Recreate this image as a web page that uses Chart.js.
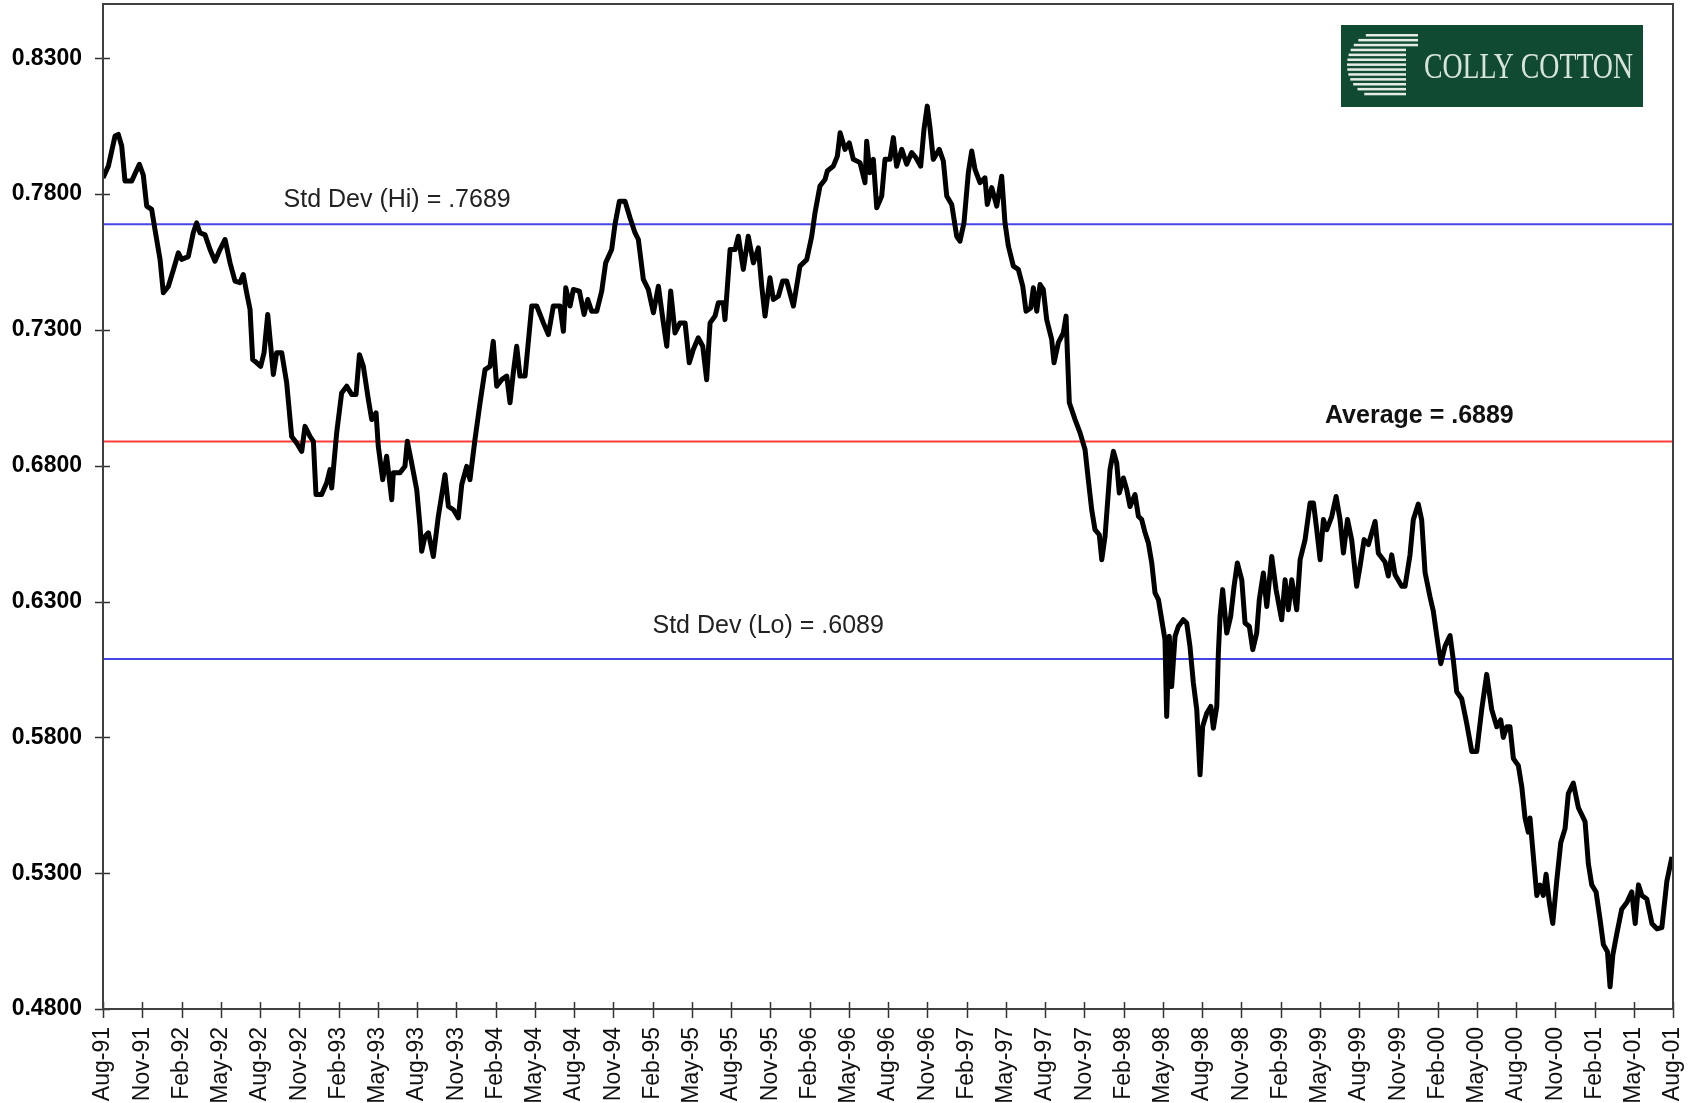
<!DOCTYPE html>
<html>
<head>
<meta charset="utf-8">
<title>AUD/USD - Colly Cotton</title>
<script src="https://cdn.jsdelivr.net/npm/chart.js@4.4.1/dist/chart.umd.min.js"></script>
<style>
  html, body { margin: 0; padding: 0; background: #fff; }
  canvas { display: block; }
</style>
</head>
<body>
<canvas id="chart" width="1690" height="1103"></canvas>
<script>
// ===== Data =====
// Months since Aug-91 and the rate read at that point
const months = [
  0, 0.41, 0.92, 1.17, 1.43, 1.68, 2.19, 2.78, 3.08, 3.34, 3.72, 3.97, 4.36, 4.61, 4.99, 5.37, 5.76, 6.01, 6.52, 6.9,
  7.16, 7.41, 7.8, 8.18, 8.56, 8.94, 9.33, 9.71, 10.09, 10.47, 10.72, 10.98, 11.24, 11.44, 11.75, 12.05, 12.31, 12.59, 12.82, 13.02,
  13.27, 13.66, 14.04, 14.42, 14.8, 15.19, 15.44, 15.82, 16.08, 16.28, 16.71, 17.1, 17.35, 17.48, 17.86, 18.24, 18.63, 19.01, 19.34, 19.6,
  19.9, 20.28, 20.54, 20.87, 21.04, 21.38, 21.68, 22.07, 22.19, 22.7, 23.08, 23.26, 23.59, 23.98, 24.23, 24.36,
  24.61, 24.87, 25.25, 25.63, 26.14, 26.4, 26.78, 27.16, 27.42, 27.8, 28.05, 28.43, 28.82, 29.2, 29.58, 29.83, 30.09, 30.47, 30.86, 31.11,
  31.36, 31.62, 31.87, 32.26, 32.77, 33.15, 33.66, 34.04, 34.42, 34.93, 35.19, 35.37, 35.7, 35.95, 36.41, 36.77, 37.05, 37.35, 37.74, 38.12,
  38.42, 38.88, 39.13, 39.47, 39.9, 40.28, 40.66, 40.92, 41.3, 41.68, 42.07, 42.45, 42.83, 43.09, 43.39, 43.72, 44.1, 44.49, 44.81, 45.12,
  45.5, 45.84, 46.14, 46.4, 46.78, 47.03, 47.41, 47.54, 47.93, 48.31, 48.56,
  48.94, 49.32, 49.71, 50.09, 50.35, 50.6, 50.98, 51.24, 51.62, 51.95, 52.26, 52.77, 53.27, 53.79, 54.17, 54.42, 54.8, 55.19, 55.36, 55.82,
  56.13, 56.34, 56.71, 57.04, 57.35, 57.86, 58.24, 58.37, 58.62, 58.88, 59.14, 59.52, 59.77, 60.15, 60.41, 60.66, 61.05, 61.43, 61.81, 62.14,
  62.5, 62.75, 63.0, 63.21, 63.46, 63.92, 64.23, 64.49, 64.87, 65.25, 65.5, 65.81, 66.14, 66.4, 66.65, 67.03, 67.41, 67.59, 67.93, 68.31,
  68.69, 68.94, 69.2, 69.58, 69.96, 70.3, 70.55, 70.91, 71.11, 71.37, 71.62, 71.87, 72.13, 72.51, 72.69, 73.02, 73.4, 73.61, 73.71, 73.86,
  74.3, 74.68, 75.06, 75.31, 75.57, 75.82, 76.15, 76.34, 76.59, 76.97, 77.23, 77.48, 77.68, 77.99, 78.25, 78.5, 78.88, 79.14, 79.39, 79.65,
  79.9, 80.16, 80.41, 80.67, 80.92, 81.17, 81.3, 81.5, 81.68, 81.94, 82.19, 82.57, 82.83, 83.08, 83.34, 83.6, 83.85, 84.05, 84.36, 84.67,
  84.87, 85.13, 85.25, 85.38, 85.58, 85.89, 86.19, 86.45, 86.7, 87.04, 87.29, 87.62, 87.88, 88.18, 88.38, 88.69, 88.95, 89.33, 89.66, 90.09,
  90.35, 90.6, 90.86, 91.24, 91.5, 91.88, 92.26, 92.52, 92.77, 93.03, 93.28, 93.54, 93.92, 94.25, 94.55, 94.81, 95.12, 95.44, 95.82, 96.08,
  96.39, 96.72,
  97.23, 97.48, 97.99, 98.24, 98.5, 98.75, 99.27, 99.52, 99.9, 100.15, 100.53, 100.79, 101.05, 101.43, 101.68, 101.94, 102.25, 102.58, 102.96, 103.21,
  103.47, 103.85, 104.23, 104.62, 105, 105.38, 105.76, 106.14, 106.53, 106.83, 107.03, 107.29, 107.54, 107.8, 108.18, 108.44, 108.69, 108.94, 109.07, 109.33,
  109.59, 109.84, 110.09, 110.3, 110.55, 110.81, 111.11, 111.42, 111.75, 112, 112.38, 112.77, 113.28, 113.53, 113.79, 114.12, 114.43, 114.68, 114.99, 115.19,
  115.4, 115.7, 116.08, 116.47, 116.85, 117.11, 117.36, 117.62, 118, 118.39, 118.77, 119.15, 119.53, 119.92
];
const rates = [
  0.786, 0.7903, 0.8014, 0.802, 0.7977, 0.7848, 0.7848, 0.791, 0.787, 0.7756, 0.7744, 0.767, 0.756, 0.7437, 0.746, 0.752, 0.7584, 0.756, 0.757, 0.7658,
  0.7694, 0.7658, 0.765, 0.7596, 0.7553, 0.7596, 0.7633, 0.7547, 0.748, 0.7474, 0.7504, 0.7437, 0.7375, 0.7191, 0.7179, 0.7166, 0.7216, 0.7357, 0.724, 0.7136,
  0.7216, 0.7216, 0.7105, 0.6908, 0.6884, 0.6853, 0.6945, 0.6908, 0.689, 0.6694, 0.6694, 0.6737, 0.6786, 0.6718, 0.6921, 0.7068, 0.7093, 0.7062, 0.7062, 0.7209,
  0.7166, 0.7044, 0.697, 0.6995, 0.6872, 0.6749, 0.6835, 0.6675, 0.6774, 0.6774, 0.6798, 0.689, 0.681, 0.6712, 0.6577, 0.6485,
  0.654, 0.6553, 0.6466, 0.6614, 0.6767, 0.665, 0.6638, 0.6608, 0.6731, 0.6798, 0.6749, 0.6896, 0.7032, 0.7154, 0.7166, 0.7258, 0.7093, 0.7117, 0.713, 0.7032,
  0.7142, 0.724, 0.713, 0.713, 0.7388, 0.7388, 0.7326, 0.7283, 0.7388, 0.7388, 0.7295, 0.7455, 0.7388, 0.7449, 0.7443, 0.7357, 0.7412, 0.7369, 0.7369, 0.7443,
  0.7547, 0.7596, 0.7688, 0.7774, 0.7774, 0.7713, 0.7658, 0.7633, 0.7486, 0.7449, 0.7363, 0.7461, 0.7326, 0.724, 0.7443, 0.7289, 0.7326, 0.7326, 0.7179, 0.7228,
  0.7271, 0.724, 0.7117, 0.7326, 0.7351, 0.74, 0.74, 0.7338, 0.7596, 0.7596, 0.7645,
  0.7523, 0.7645, 0.7547, 0.7602, 0.7461, 0.7351, 0.7492, 0.7412, 0.7424, 0.748, 0.748, 0.7388, 0.7535, 0.7559, 0.7645, 0.7731, 0.783, 0.7854, 0.7885, 0.7903,
  0.794, 0.8026, 0.7965, 0.7989, 0.7928, 0.7916, 0.7842, 0.7995, 0.7879, 0.7928, 0.775, 0.7793, 0.7928, 0.7928, 0.8008, 0.7903, 0.7965, 0.791, 0.7953, 0.7934,
  0.7903, 0.8038, 0.8124, 0.8045, 0.7928, 0.7965, 0.7922, 0.7793, 0.7762, 0.7645, 0.7627, 0.7695, 0.7879, 0.7959, 0.7891, 0.7842, 0.786, 0.7762, 0.7824, 0.7756,
  0.7866, 0.7695, 0.7609, 0.7535, 0.7523, 0.7461, 0.7369, 0.7381, 0.7455, 0.7369, 0.7467, 0.7449, 0.7338, 0.7265, 0.7179, 0.7253, 0.7289, 0.7351, 0.7216, 0.7032,
  0.697, 0.6921, 0.686, 0.6749, 0.6638, 0.6565, 0.6546, 0.6454, 0.654, 0.6786, 0.6853, 0.681, 0.67, 0.6755, 0.6712, 0.665, 0.6694, 0.6614, 0.6602, 0.6553,
  0.6516, 0.6442, 0.6332, 0.6307, 0.6233, 0.616, 0.5877, 0.6172, 0.5987, 0.6172, 0.6208, 0.6233, 0.6221, 0.6135, 0.6, 0.5902, 0.5662, 0.584, 0.5889, 0.5914,
  0.5834, 0.5914, 0.611, 0.6245, 0.6344, 0.6184, 0.6245, 0.6356, 0.6442, 0.638, 0.6221, 0.6208, 0.6123, 0.6184, 0.6307, 0.6405, 0.6282, 0.6466, 0.6344, 0.6233,
  0.638, 0.627, 0.638, 0.627, 0.6454, 0.6528, 0.6663, 0.6663, 0.6565, 0.6454, 0.6602, 0.6565, 0.6614, 0.6687, 0.6602, 0.6479, 0.6602, 0.6528, 0.6356, 0.643,
  0.6528, 0.651,
  0.6595, 0.6478, 0.6446, 0.6394, 0.6472, 0.64, 0.6356, 0.6356, 0.6472, 0.6601, 0.6659, 0.6601, 0.6407, 0.6317, 0.6265, 0.6175, 0.6071, 0.6136, 0.6175, 0.6084,
  0.5968, 0.5942, 0.5852, 0.5748, 0.5748, 0.5903, 0.6032, 0.5903, 0.5839, 0.5864, 0.58, 0.5839, 0.5839, 0.5722, 0.5696, 0.5619, 0.5503, 0.5451, 0.5503, 0.536,
  0.5218, 0.5256, 0.5218, 0.5296, 0.5192, 0.5115, 0.527, 0.5412, 0.5464, 0.5593, 0.5632, 0.5541, 0.549, 0.5335, 0.5257, 0.5231, 0.5128, 0.5037, 0.5011, 0.4882,
  0.4999, 0.5076, 0.5167, 0.5192, 0.5231, 0.5115, 0.5257, 0.5218, 0.5205, 0.5115, 0.5095, 0.51, 0.527, 0.536
];

// Quarterly ticks on the date axis
const tickMonths = [0, 3, 6, 9, 12, 15, 18, 21, 24, 27, 30, 33, 36, 39, 42, 45, 48, 51, 54, 57,
  60, 63, 66, 69, 72, 75, 78, 81, 84, 87, 90, 93, 96, 99, 102, 105, 108, 111, 114, 117, 120];
const tickLabels = ['Aug-91', 'Nov-91', 'Feb-92', 'May-92', 'Aug-92', 'Nov-92', 'Feb-93', 'May-93', 'Aug-93', 'Nov-93',
  'Feb-94', 'May-94', 'Aug-94', 'Nov-94', 'Feb-95', 'May-95', 'Aug-95', 'Nov-95', 'Feb-96', 'May-96',
  'Aug-96', 'Nov-96', 'Feb-97', 'May-97', 'Aug-97', 'Nov-97', 'Feb-98', 'May-98', 'Aug-98', 'Nov-98',
  'Feb-99', 'May-99', 'Aug-99', 'Nov-99', 'Feb-00', 'May-00', 'Aug-00', 'Nov-00', 'Feb-01', 'May-01', 'Aug-01'];
const yTicks = [0.48, 0.53, 0.58, 0.63, 0.68, 0.73, 0.78, 0.83];

// Reference levels
const stdHi = 0.7689;
const average = 0.6889;
const stdLo = 0.6089;

// ===== Helpers =====
const FONT = '"Liberation Sans", Arial, sans-serif';
Chart.defaults.font.family = FONT;

const series = months.map((m, i) => ({ x: m, y: rates[i] }));
const level = v => [{ x: 0, y: v }, { x: 120, y: v }];

// scales keep a fixed size and no extra edge padding
const fixSize = (w, h) => s => {
  if (w) s.width = w;
  if (h) s.height = h;
  s.paddingTop = s.paddingBottom = s.paddingLeft = s.paddingRight = 0;
};

// Frame, crossing tick marks, notes and logo
const decor = {
  id: 'decor',
  afterDraw(chart) {
    const { ctx, chartArea: a, scales: { x, y } } = chart;
    ctx.save();

    // ticks crossing the axes
    ctx.strokeStyle = '#333';
    ctx.lineWidth = 1.5;
    ctx.beginPath();
    yTicks.forEach(v => {
      const py = Math.round(y.getPixelForValue(v)) + 0.5;
      ctx.moveTo(a.left - 8, py); ctx.lineTo(a.left + 7, py);
    });
    tickMonths.forEach(v => {
      const px = Math.round(x.getPixelForValue(v)) + 0.5;
      ctx.moveTo(px, a.bottom - 7); ctx.lineTo(px, a.bottom + 9);
    });
    ctx.stroke();

    // plot frame
    ctx.strokeStyle = '#404040';
    ctx.lineWidth = 2;
    ctx.strokeRect(a.left, a.top, a.right - a.left, a.bottom - a.top);

    // notes on the reference levels
    ctx.fillStyle = '#222';
    ctx.textAlign = 'left';
    ctx.textBaseline = 'alphabetic';
    ctx.font = `25px ${FONT}`;
    ctx.fillText('Std Dev (Hi) = .7689', x.getPixelForValue(13.8), y.getPixelForValue(stdHi) - 17);
    ctx.fillText('Std Dev (Lo) = .6089', x.getPixelForValue(42.0), y.getPixelForValue(stdLo) - 26);
    ctx.fillStyle = '#111';
    ctx.font = `bold 25px ${FONT}`;
    ctx.fillText('Average = .6889', x.getPixelForValue(93.4), y.getPixelForValue(average) - 19);

    // Colly Cotton logo
    const bx = 1341, by = 25, bw = 302, bh = 82;
    ctx.fillStyle = '#0f4a31';
    ctx.fillRect(bx, by, bw, bh);
    ctx.fillStyle = '#e4ece6';
    for (let i = 0; i < 13; i++) {
      const sy = by + 9 + i * 4.9;
      const dy = sy + 1.2 - (by + 40);
      const half = Math.sqrt(Math.max(0, 33 * 33 - dy * dy));
      const left = bx + 39 - half;
      const right = i < 3 ? bx + 77 : bx + 65;
      ctx.fillRect(left, sy, right - left, 2.5);
    }
    ctx.fillStyle = '#d8e3dc';
    ctx.font = `35px "Liberation Serif", "Times New Roman", serif`;
    ctx.fillText('COLLY COTTON', bx + 83, by + 53, 209);

    ctx.restore();
  }
};

// ===== Chart =====
new Chart(document.getElementById('chart'), {
  type: 'line',
  data: {
    datasets: [
      { data: series, borderColor: '#000', borderWidth: 5, borderJoinStyle: 'round', pointRadius: 0, order: 0 },
      { data: level(stdHi), borderColor: '#4646e6', borderWidth: 2, pointRadius: 0, order: 1 },
      { data: level(average), borderColor: '#ff3c3c', borderWidth: 2, pointRadius: 0, order: 1 },
      { data: level(stdLo), borderColor: '#4646e6', borderWidth: 2, pointRadius: 0, order: 1 }
    ]
  },
  options: {
    responsive: false,
    animation: false,
    layout: { padding: { top: 4, right: 17, left: 0, bottom: 0 } },
    plugins: { legend: { display: false }, tooltip: { enabled: false } },
    scales: {
      x: {
        type: 'linear',
        min: 0,
        max: 120,
        afterBuildTicks: s => { s.ticks = tickMonths.map(v => ({ value: v })); },
        afterFit: fixSize(0, 94),
        grid: { display: false },
        border: { display: false },
        ticks: {
          autoSkip: false,
          minRotation: 90,
          maxRotation: 90,
          padding: 10,
          color: '#111',
          font: { size: 23 },
          callback: (v, i) => tickLabels[i]
        }
      },
      y: {
        type: 'linear',
        min: 0.48,
        max: 0.85,
        afterBuildTicks: s => { s.ticks = yTicks.map(v => ({ value: v })); },
        afterFit: fixSize(103, 0),
        grid: { display: false },
        border: { display: false },
        ticks: {
          padding: 13,
          color: '#000',
          font: { size: 23, weight: 'bold' },
          callback: v => v.toFixed(4)
        }
      }
    }
  },
  plugins: [decor]
});
</script>
</body>
</html>
